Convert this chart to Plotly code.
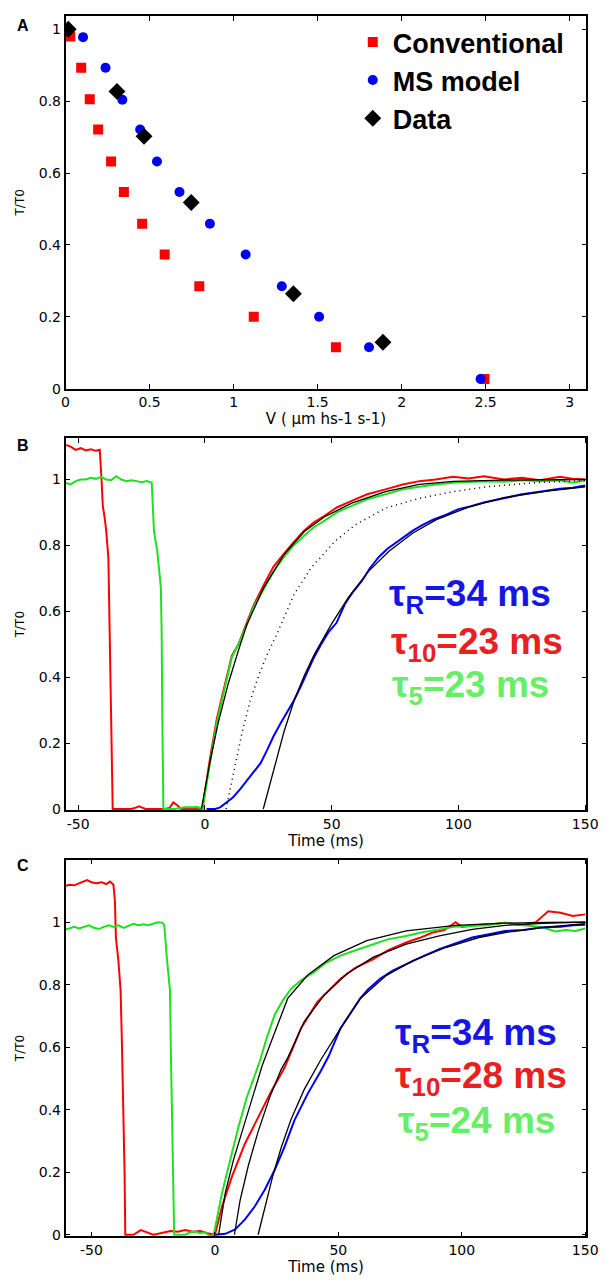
import plotly.graph_objects as go

# ---------------- Panel A data ----------------
conv_v = [0.028, 0.093, 0.144, 0.194, 0.271, 0.347, 0.456, 0.590, 0.796, 1.12, 1.609, 2.493]
conv_t = [0.98, 0.893, 0.805, 0.721, 0.632, 0.547, 0.459, 0.373, 0.285, 0.2, 0.115, 0.027]
ms_v = [0.104, 0.238, 0.338, 0.444, 0.544, 0.678, 0.859, 1.072, 1.287, 1.509, 1.806, 2.47]
ms_t = [0.978, 0.893, 0.804, 0.721, 0.632, 0.547, 0.459, 0.373, 0.285, 0.2, 0.115, 0.027]
data_v = [0.016, 0.306, 0.467, 0.748, 1.356, 1.889]
data_t = [1.0, 0.827, 0.702, 0.518, 0.264, 0.129]

# ---------------- Panel B data ----------------
b_red_t = [-55, -53, -51, -49, -47, -45, -43, -41.5, -40.8, -40.3, -39.5, -39, -38.1, -37.7, -37.2, -36.8, -36.4,
           -33, -29, -27, -26, -25, -23.5, -20, -16, -14, -12.5, -11, -9.5, -7, -4, -1,
           1.9, 4.6, 7, 10.6, 13.2, 16.6, 19, 23.2, 27, 31.2, 35, 39.2, 43, 47.2, 52, 57.9, 64, 71.2, 78,
           84.6, 91, 97.9, 104, 110, 117.9, 125, 132, 140, 145, 150]
b_red_v = [1.105, 1.10, 1.09, 1.095, 1.088, 1.092, 1.087, 1.09, 1.0, 0.92, 0.88, 0.847, 0.762, 0.592, 0.401, 0.18, 0.0,
           0.0, 0.0, 0.005, 0.008, 0.005, 0.0, 0.0, 0.0, 0.003, 0.02, 0.012, 0.0, 0.0, 0.0, 0.0,
           0.15, 0.27, 0.35, 0.465, 0.5, 0.565, 0.615, 0.68, 0.735, 0.775, 0.81, 0.845, 0.87, 0.89, 0.915, 0.935, 0.955, 0.97, 0.985,
           0.995, 1.0, 1.008, 1.003, 1.01, 1.0, 1.005, 0.998, 1.008, 1.002, 1.0]

b_green_t = [-55, -53, -51, -49, -47, -45, -43, -41, -39, -37, -35, -33, -31, -29, -27, -25, -23, -21,
             -20.1, -18.8, -17.4, -17.1, -16.8, -16.4, -12, -8, -6, -3, -1,
             1.9, 4.6, 7, 10.6, 13.2, 16.6, 19, 23.2, 27, 31.2, 35, 39.2, 43, 47.2, 52, 57.9, 64, 71.2, 78,
             84.6, 91, 97.9, 104, 110, 117.9, 125, 132, 140, 145, 150]
b_green_v = [0.99, 0.985, 0.995, 1.0, 1.0, 1.005, 1.002, 1.008, 1.0, 0.998, 1.01, 1.0, 0.995, 0.998, 0.995, 0.992, 0.995, 0.99,
             0.842, 0.782, 0.672, 0.542, 0.26, 0.0, 0.0, 0.005, 0.005, 0.006, 0.0,
             0.14, 0.26, 0.34, 0.46, 0.5, 0.56, 0.61, 0.67, 0.72, 0.765, 0.8, 0.83, 0.855, 0.875, 0.9, 0.92, 0.94, 0.955, 0.97,
             0.978, 0.985, 0.99, 0.992, 0.995, 0.993, 0.998, 0.995, 0.998, 0.99, 0.997]

b_blue_t = [0.6, 4, 6, 8.6, 11, 13.9, 16.5, 19.2, 22, 24.6, 27, 29.9, 32.5, 35.2, 38, 40.6, 43, 45.9, 48.6, 51.9,
            55.2, 58.5, 61.9, 65, 68.6, 72, 77.9, 82, 85.9, 90, 95.2, 100, 104.6, 110, 117.9, 125, 132, 140, 145, 150]
b_blue_v = [0, 0.0, 0.005, 0.02, 0.035, 0.06, 0.085, 0.11, 0.14, 0.18, 0.22, 0.261, 0.295, 0.331, 0.375, 0.421, 0.46, 0.501, 0.535, 0.565,
            0.622, 0.66, 0.692, 0.73, 0.765, 0.79, 0.822, 0.845, 0.862, 0.878, 0.893, 0.91, 0.918, 0.93, 0.943, 0.955, 0.963, 0.972, 0.975, 0.982]

b_fit_rg_t = [-1.4, 1.9, 5.2, 9.2, 13.2, 16.6, 23.2, 31.2, 39.2, 47.2, 57.9, 71.2, 84.6, 97.9, 117.9, 135, 150]
b_fit_rg_v = [0, 0.14, 0.261, 0.381, 0.481, 0.561, 0.672, 0.772, 0.842, 0.887, 0.928, 0.963, 0.985, 0.994, 0.998, 0.999, 1.0]

b_fit_blue_t = [23, 27.2, 31.2, 35.2, 39.2, 43.2, 49.9, 56.6, 64.6, 72.6, 81.9, 91.3, 104.6, 117.9, 135, 150]
b_fit_blue_v = [0, 0.125, 0.235, 0.33, 0.405, 0.47, 0.561, 0.642, 0.722, 0.782, 0.837, 0.878, 0.918, 0.945, 0.965, 0.978]

b_dot_t = [8.3, 11.2, 14.6, 17.9, 21.2, 24.6, 28.6, 35.2, 41.9, 51.2, 59.2, 71.2, 84.6, 97.9, 111.3, 130, 150]
b_dot_v = [0.0, 0.110, 0.231, 0.33, 0.405, 0.47, 0.535, 0.652, 0.732, 0.812, 0.862, 0.913, 0.943, 0.963, 0.978, 0.99, 0.997]

# ---------------- Panel C data ----------------
c_red_t = [-61, -59, -57, -55, -53, -51.8, -50, -48, -46, -44, -42.5, -41.1,
           -40.5, -40.1, -39.1, -38.2, -37.7, -37.1, -36.6, -36.3,
           -33, -30, -28.5, -27, -25, -23, -20, -18, -15, -12, -9, -6, -3, -1, 0,
           2.9, 6.9, 12.2, 17.5, 22.9, 28.2, 34.9, 41.5, 50.9, 57, 64.2, 70, 77.5, 83, 88.2, 93, 97.5, 100,
           105, 110.9, 117.5, 125, 130, 135, 140, 145, 150]
c_red_v = [1.115, 1.12, 1.118, 1.125, 1.13, 1.135, 1.128, 1.125, 1.128, 1.122, 1.13, 1.12,
           1.067, 0.951, 0.877, 0.782, 0.624, 0.413, 0.202, 0.0,
           0.0, 0.015, 0.01, 0.005, 0.0, 0.003, 0.008, 0.012, 0.01, 0.015, 0.01, 0.012, 0.005, 0.003, 0.0,
           0.091, 0.186, 0.292, 0.376, 0.46, 0.534, 0.661, 0.745, 0.819, 0.855, 0.882, 0.91, 0.935, 0.95, 0.967, 0.975, 1.0, 0.985,
           0.99, 0.993, 0.998, 0.99, 1.0, 1.035, 1.03, 1.02, 1.025]

c_green_t = [-61, -59, -57, -55, -53, -51, -49, -47, -45, -43, -41, -39, -37, -35, -33, -31, -29, -27, -25, -23, -21.1,
             -20.5, -19.5, -18.2, -17.8, -17.4, -16.9, -16.5,
             -12, -10, -8, -6, -4, -2, -0.5,
             2.9, 6.2, 9.5, 12.9, 16.2, 18.2, 21, 24.2, 27.5, 30.9, 35, 40.2, 45, 50.9, 57, 64.2, 70, 77.5, 84, 90.9, 97,
             104.2, 110, 117.5, 125, 132, 138, 142, 146, 150]
c_green_v = [0.975, 0.98, 0.985, 0.98, 0.985, 0.99, 0.982, 0.978, 0.985, 0.99, 0.985, 0.99, 0.982, 0.988, 0.995, 0.99, 0.993, 0.99, 0.995, 1.0, 0.998,
             0.99, 0.888, 0.782, 0.571, 0.392, 0.202, 0.0,
             0.0, 0.008, 0.01, 0.005, 0.008, -0.005, 0.0,
             0.134, 0.239, 0.344, 0.439, 0.513, 0.555, 0.63, 0.703, 0.75, 0.787, 0.815, 0.84, 0.87, 0.893, 0.91, 0.93, 0.945, 0.956, 0.968, 0.977, 0.985,
             0.988, 0.99, 0.998, 0.99, 0.985, 0.97, 0.975, 0.972, 0.98]

c_blue_t = [0.2, 4.2, 8.2, 12.2, 16.2, 20.2, 24.2, 28.2, 32.2, 37.5, 42.9, 46, 50.9, 55, 58.9, 62, 66.9, 72, 77.5, 84, 90.9, 97,
            104.2, 110, 117.5, 125, 132, 140, 145, 150]
c_blue_v = [0, 0.003, 0.017, 0.049, 0.091, 0.144, 0.207, 0.281, 0.366, 0.45, 0.524, 0.57, 0.661, 0.71, 0.756, 0.785, 0.819, 0.845, 0.866, 0.89, 0.914, 0.93,
            0.951, 0.96, 0.972, 0.975, 0.983, 0.985, 0.99, 0.992]

c_fit_green_t = [1.5, 4.2, 7.5, 11.5, 15.5, 19.1, 22.9, 29.5, 37.5, 48.2, 61.5, 77.5, 97.5, 117.5, 135, 150]
c_fit_green_v = [0, 0.134, 0.239, 0.344, 0.45, 0.54, 0.62, 0.756, 0.83, 0.893, 0.941, 0.972, 0.99, 0.997, 0.999, 1.0]

c_fit_red_t = [7.9, 10.2, 13.5, 17.5, 22.2, 26.9, 29.5, 36.2, 44.2, 53.5, 64.2, 77.5, 90.9, 104.2, 117.5, 135, 150]
c_fit_red_v = [0, 0.11, 0.22, 0.33, 0.44, 0.53, 0.566, 0.682, 0.766, 0.835, 0.888, 0.93, 0.956, 0.977, 0.99, 0.997, 1.0]

c_fit_blue_t = [17.5, 20.2, 23.5, 26.9, 30.9, 36.2, 42.9, 50.9, 58.9, 69.5, 80.2, 93.5, 106.9, 117.5, 135, 150]
c_fit_blue_v = [0, 0.09, 0.19, 0.28, 0.37, 0.465, 0.56, 0.66, 0.756, 0.83, 0.877, 0.919, 0.951, 0.967, 0.985, 0.995]

# ---------------- labels ----------------
y_ticks = [0, 0.2, 0.4, 0.6, 0.8, 1]
y_ticktext = ["0", "0.2", "0.4", "0.6", "0.8", "1"]
a_xticks = [0, 0.5, 1, 1.5, 2, 2.5, 3]
a_xticktext = ["0", "0.5", "1", "1.5", "2", "2.5", "3"]
t_ticks = [-50, 0, 50, 100, 150]
t_ticktext = ["-50", "0", "50", "100", "150"]

RED = "#FF0000"
GREEN = "#1FE01F"
BLUE = "#0000F0"

W, H = 607, 1287

def xd(a, b):
    return [a / W, b / W]

def yd(top, bottom):
    return [1 - bottom / H, 1 - top / H]

fig = go.Figure()

# Panel A
fig.add_trace(go.Scatter(x=conv_v, y=conv_t, mode="markers", name="Conventional",
                         marker=dict(symbol="square", size=10, color=RED), xaxis="x", yaxis="y"))
fig.add_trace(go.Scatter(x=ms_v, y=ms_t, mode="markers", name="MS model",
                         marker=dict(symbol="circle", size=10, color=BLUE), xaxis="x", yaxis="y"))
fig.add_trace(go.Scatter(x=data_v, y=data_t, mode="markers", name="Data",
                         marker=dict(symbol="diamond", size=13, color="black"), xaxis="x", yaxis="y"))

def line(x, y, color, width, ax, dash="solid"):
    fig.add_trace(go.Scatter(x=x, y=y, mode="lines", showlegend=False,
                             line=dict(color=color, width=width, dash=dash),
                             xaxis="x" + ax, yaxis="y" + ax))

# Panel B
line(b_red_t, b_red_v, RED, 2, "2")
line(b_green_t, b_green_v, GREEN, 2, "2")
line(b_blue_t, b_blue_v, BLUE, 2, "2")
line(b_dot_t, b_dot_v, "black", 1.5, "2", dash="1px,4px")
line(b_fit_rg_t, b_fit_rg_v, "black", 1.3, "2")
line(b_fit_blue_t, b_fit_blue_v, "black", 1.3, "2")

# Panel C
line(c_red_t, c_red_v, RED, 2, "3")
line(c_green_t, c_green_v, GREEN, 2, "3")
line(c_blue_t, c_blue_v, BLUE, 2, "3")
line(c_fit_green_t, c_fit_green_v, "black", 1.3, "3")
line(c_fit_red_t, c_fit_red_v, "black", 1.3, "3")
line(c_fit_blue_t, c_fit_blue_v, "black", 1.3, "3")

tickfont = dict(family="DejaVu Sans", size=14, color="black")
titlefont = dict(family="DejaVu Sans", size=15, color="black")
ytitlefont = dict(family="DejaVu Sans", size=12, color="black")
common = dict(showline=True, linecolor="black", linewidth=1.5, mirror="ticks", ticks="inside",
              ticklen=5, tickwidth=1, tickcolor="black", showgrid=False, zeroline=False,
              tickfont=tickfont)

fig.update_layout(
    width=W, height=H, margin=dict(l=0, r=0, t=0, b=0),
    paper_bgcolor="white", plot_bgcolor="white",
    showlegend=True,
    legend=dict(x=350 / W, y=1 - 10 / H, xanchor="left", yanchor="top",
                font=dict(family="Liberation Sans", size=27, color="black", weight="bold"),
                bgcolor="rgba(0,0,0,0)", tracegroupgap=0, itemwidth=30),
    xaxis=dict(domain=xd(55, 590), range=[0, 3.1], tickvals=a_xticks, ticktext=a_xticktext,
               anchor="y", title=dict(text="V ( μm hs-1 s-1)", font=titlefont, standoff=2), **common),
    yaxis=dict(domain=yd(8, 383), range=[0, 1.037], tickvals=y_ticks, ticktext=y_ticktext,
               anchor="x", title=dict(text="T/T0", font=ytitlefont, standoff=12), **common),
    xaxis2=dict(domain=xd(55, 590), range=[-55, 150.5], tickvals=t_ticks, ticktext=t_ticktext,
                anchor="y2", title=dict(text="Time (ms)", font=titlefont, standoff=2), **common),
    yaxis2=dict(domain=yd(433, 807), range=[-0.003, 1.125], tickvals=y_ticks, ticktext=y_ticktext,
                anchor="x2", title=dict(text="T/T0", font=ytitlefont, standoff=12), **common),
    xaxis3=dict(domain=xd(55, 590), range=[-60.5, 150.5], tickvals=t_ticks, ticktext=t_ticktext,
                anchor="y3", title=dict(text="Time (ms)", font=titlefont, standoff=2), **common),
    yaxis3=dict(domain=yd(857, 1236), range=[-0.005, 1.2], tickvals=y_ticks, ticktext=y_ticktext,
                anchor="x3", title=dict(text="T/T0", font=ytitlefont, standoff=12), **common),
)

ann_font = "Liberation Sans"
TS = 37
annotations = [
    dict(text="<b>A</b>", x=3 / W, y=1 - 18 / H, xref="paper", yref="paper", xanchor="left", yanchor="middle",
         showarrow=False, font=dict(family=ann_font, size=16, color="black")),
    dict(text="<b>B</b>", x=3 / W, y=1 - 440 / H, xref="paper", yref="paper", xanchor="left", yanchor="middle",
         showarrow=False, font=dict(family=ann_font, size=16, color="black")),
    dict(text="<b>C</b>", x=3 / W, y=1 - 863 / H, xref="paper", yref="paper", xanchor="left", yanchor="middle",
         showarrow=False, font=dict(family=ann_font, size=16, color="black")),
    # Panel B texts
    dict(text="<b>τ<sub>R</sub>=34 ms</b>", x=72, y=0.645, xref="x2", yref="y2", xanchor="left", yanchor="middle",
         showarrow=False, font=dict(family=ann_font, size=TS, color="#1515E6")),
    dict(text="<b>τ<sub>10</sub>=23 ms</b>", x=72.5, y=0.5, xref="x2", yref="y2", xanchor="left", yanchor="middle",
         showarrow=False, font=dict(family=ann_font, size=TS, color="#E82020")),
    dict(text="<b>τ<sub>5</sub>=23 ms</b>", x=73, y=0.37, xref="x2", yref="y2", xanchor="left", yanchor="middle",
         showarrow=False, font=dict(family=ann_font, size=TS, color="#66EE66")),
    # Panel C texts
    dict(text="<b>τ<sub>R</sub>=34 ms</b>", x=72, y=0.638, xref="x3", yref="y3", xanchor="left", yanchor="middle",
         showarrow=False, font=dict(family=ann_font, size=TS, color="#1515E6")),
    dict(text="<b>τ<sub>10</sub>=28 ms</b>", x=72, y=0.5, xref="x3", yref="y3", xanchor="left", yanchor="middle",
         showarrow=False, font=dict(family=ann_font, size=TS, color="#E82020")),
    dict(text="<b>τ<sub>5</sub>=24 ms</b>", x=73.5, y=0.358, xref="x3", yref="y3", xanchor="left", yanchor="middle",
         showarrow=False, font=dict(family=ann_font, size=TS, color="#66EE66")),
]
fig.update_layout(annotations=annotations)

fig.write_html("out.html")
